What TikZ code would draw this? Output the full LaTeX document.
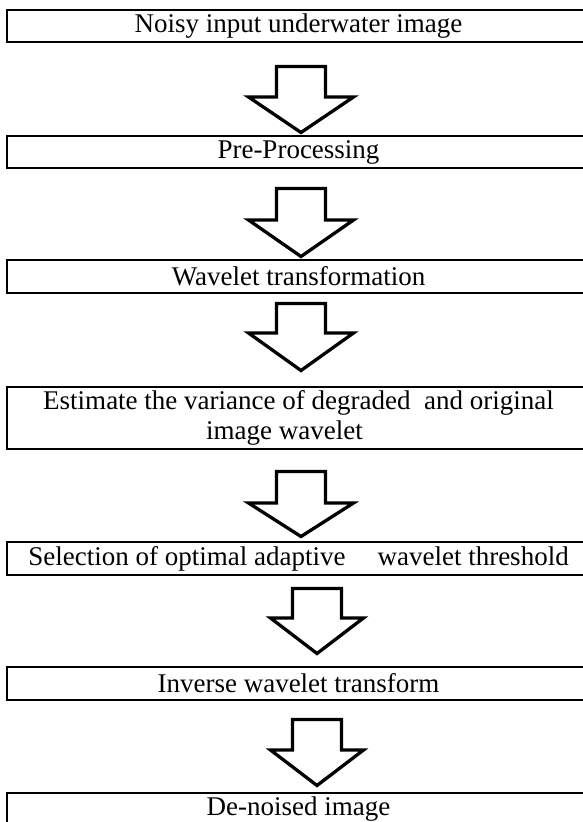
\documentclass[tikz,border=0pt]{standalone}
\usepackage{fontspec}
\setmainfont{Liberation Serif}
\usepackage{tikz}

\begin{document}
\begin{tikzpicture}[x=1pt, y=-1pt,
    stagebox/.style={draw, line width=1.7pt, minimum width=583pt, inner sep=0pt,
        align=center, font=\fontsize{27}{30}\selectfont},
    blockarrow/.style={draw, line width=3.3pt, line join=miter, fill=white}]
\useasboundingbox (0,0) rectangle (583,822);

\node[stagebox, minimum height=32pt] (noisy) at (298.5,26) {Noisy input underwater image};
\node[stagebox, minimum height=32pt] (prep) at (298.5,152) {Pre-Processing};
\node[stagebox, minimum height=33pt] (wavelet) at (298.5,276.5) {Wavelet transformation};
\node[stagebox, minimum height=62pt] (variance) at (298.5,418) {Estimate the variance of degraded\ \ and original\\image wavelet\hspace*{28pt}};
\node[stagebox, minimum height=33pt] (thresh) at (298.5,558.5) {Selection of optimal adaptive\hspace{32pt}wavelet threshold};
\node[stagebox, minimum height=33pt] (inverse) at (298.5,683.5) {Inverse wavelet transform};
\node[stagebox, minimum height=32pt] (denoised) at (298.5,809) {De-noised image};

% hollow block arrows between the stages
\foreach \cx/\yt/\yh/\yb/\hw in {301/66.5/97/132.5/52.5, 301/188.5/220/256.5/52.5,
        301/303.5/333/370.5/52.5, 301/471.5/503/536.5/52.5,
        317/588.5/618/653.5/46.5, 317/719.5/750/785.5/46.5}
  \draw[blockarrow] ({\cx-24.5},\yt) -- ({\cx+24.5},\yt) -- ({\cx+24.5},\yh)
      -- ({\cx+\hw},\yh) -- (\cx,\yb) -- ({\cx-\hw},\yh) -- ({\cx-24.5},\yh) -- cycle;

\end{tikzpicture}
\end{document}
